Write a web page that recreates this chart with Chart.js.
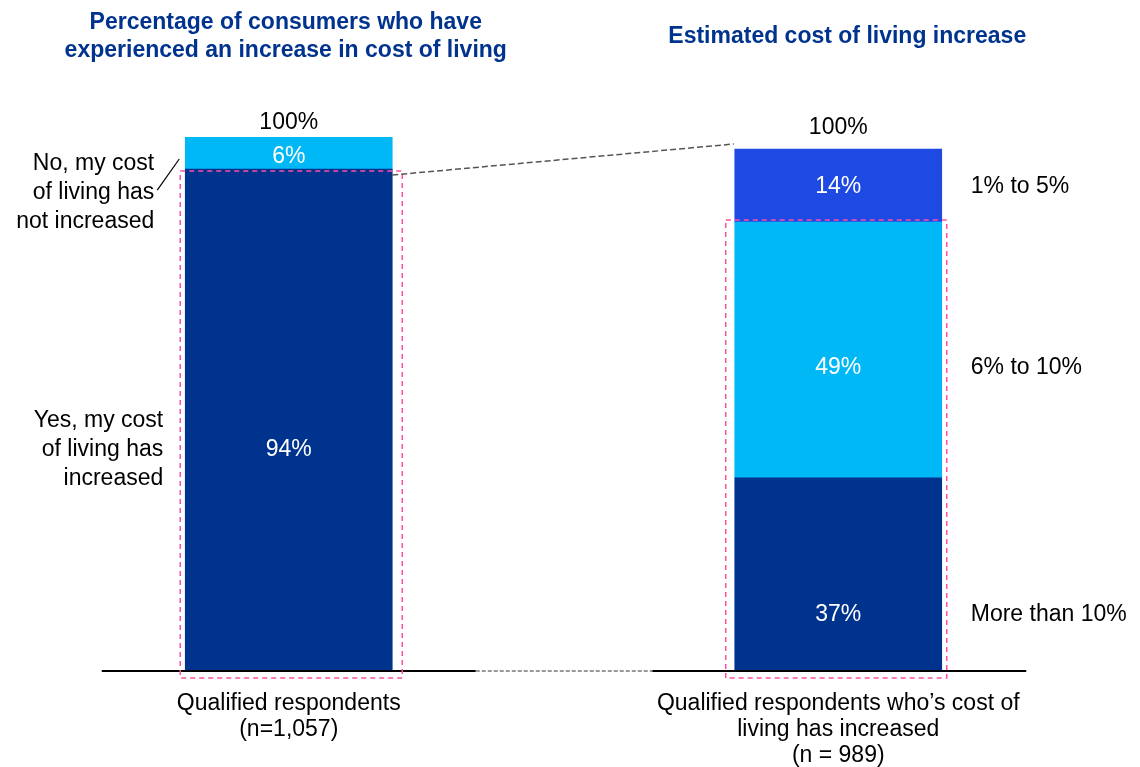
<!DOCTYPE html>
<html>
<head>
<meta charset="utf-8">
<script src="https://cdn.jsdelivr.net/npm/chart.js@4.4.1/dist/chart.umd.min.js"></script>
<style>
  html, body { margin: 0; padding: 0; background: #fff; }
  #wrap { width: 1140px; height: 767px; }
</style>
</head>
<body>
<div id="wrap"><canvas id="costChart" width="1140" height="767"></canvas></div>
<script>
// Base labels under each bar
const barLabels = [
    ['Qualified respondents', '(n=1,057)'],
    ['Qualified respondents who\u2019s cost of', 'living has increased', '(n = 989)']
];

// Left bar: has the cost of living increased? (bottom to top)
const leftSegments = [
    ['Yes, my cost', 'of living has', 'increased'],
    ['No, my cost', 'of living has', 'not increased']
];
const leftValues = [94, 6];

// Right bar: estimated increase (bottom to top)
const rightSegments = ['More than 10%', '6% to 10%', '1% to 5%'];
const rightValues = [37, 49, 14];

const titles = [
    ['Percentage of consumers who have', 'experienced an increase in cost of living'],
    ['Estimated cost of living increase']
];

const NAVY = '#00338D';
const CYAN = '#00B8F5';
const ROYAL = '#1E49E2';
const FONT = 'Arial, "Liberation Sans", sans-serif';
const SIZE = 23;

const leftColors = [NAVY, CYAN];
const rightColors = [NAVY, CYAN, ROYAL];
// where the value text sits inside each segment (0 = top, 1 = bottom)
const leftAnchor = [0.56, 0.62];
const rightAnchor = [0.71, 0.57, 0.52];

const datasets = [];
leftValues.forEach((v, i) => {
    datasets.push({
        label: leftSegments[i].join(' '),
        data: [v, null],
        backgroundColor: leftColors[i],
        yAxisID: 'y',
        side: 0,
        anchor: leftAnchor[i]
    });
});
rightValues.forEach((v, i) => {
    datasets.push({
        label: rightSegments[i],
        data: [null, v],
        backgroundColor: rightColors[i],
        yAxisID: 'y2',
        side: 1,
        anchor: rightAnchor[i]
    });
});

function dashedLine(ctx, x1, y1, x2, y2, color, dash, width) {
    ctx.save();
    ctx.strokeStyle = color;
    ctx.lineWidth = width;
    ctx.setLineDash(dash);
    ctx.beginPath();
    ctx.moveTo(x1, y1);
    ctx.lineTo(x2, y2);
    ctx.stroke();
    ctx.restore();
}

const overlay = {
    id: 'overlay',
    afterDatasetsDraw(chart) {
        const ctx = chart.ctx;
        const baseY = chart.chartArea.bottom;
        const elems = chart.data.datasets.map((ds, d) => chart.getDatasetMeta(d).data[ds.side]);

        const leftTop = elems[1], leftYes = elems[0];
        const rightTop = elems[4], rightMid = elems[3];
        const lx = leftYes.x, rx = rightMid.x;
        const lHalf = leftYes.width / 2, rHalf = rightMid.width / 2;

        // baselines
        dashedLine(ctx, lx - 187, baseY, lx + 187, baseY, '#000', [], 2);
        dashedLine(ctx, rx - 186, baseY, rx + 188, baseY, '#000', [], 2);
        dashedLine(ctx, lx + 187, baseY, rx - 186, baseY, '#777', [4, 2], 1.5);

        // pink highlight boxes around the "increased" share
        ctx.save();
        ctx.strokeStyle = '#FF4FA3';
        ctx.lineWidth = 1.5;
        ctx.setLineDash([5, 4]);
        ctx.strokeRect(lx - lHalf - 5, leftYes.y + 2, lHalf * 2 + 15, baseY + 7 - leftYes.y - 2);
        ctx.strokeRect(rx - rHalf - 9, rightMid.y - 2, rHalf * 2 + 14, baseY + 7 - rightMid.y + 2);
        ctx.restore();

        // connector from the left box to the right bar
        dashedLine(ctx, lx + lHalf, leftYes.y + 6, rx - rHalf - 1, rightTop.y - 5, '#555', [6, 3], 1.5);

        // value labels inside segments
        ctx.save();
        ctx.font = SIZE + 'px ' + FONT;
        ctx.textAlign = 'center';
        ctx.textBaseline = 'middle';
        ctx.fillStyle = '#fff';
        const labelY = elems.map((el, d) => el.y + (el.base - el.y) * chart.data.datasets[d].anchor);
        elems.forEach((el, d) => {
            const ds = chart.data.datasets[d];
            ctx.fillText(ds.data[ds.side] + '%', el.x, labelY[d]);
        });

        // totals above each bar
        ctx.fillStyle = '#000';
        const leftSum = leftValues.reduce((a, b) => a + b, 0);
        const rightSum = rightValues.reduce((a, b) => a + b, 0);
        ctx.fillText(leftSum + '%', lx, leftTop.y - 14);
        ctx.fillText(rightSum + '%', rx, rightTop.y - 21);

        // right bar segment names
        ctx.textAlign = 'left';
        rightSegments.forEach((name, i) => {
            ctx.fillText(name, rx + rHalf + 29, labelY[2 + i]);
        });

        // left bar segment names
        ctx.textAlign = 'right';
        const yesLines = leftSegments[0];
        yesLines.forEach((line, i) => {
            ctx.fillText(line, lx - lHalf - 22, labelY[0] + (i - 1) * 29);
        });
        const noLines = leftSegments[1];
        const noMid = leftYes.y + 24;
        noLines.forEach((line, i) => {
            ctx.fillText(line, lx - lHalf - 31, noMid + (i - 1) * 29);
        });
        ctx.restore();

        // leader line for the "No" label
        dashedLine(ctx, lx - lHalf - 28, noMid - 3, lx - lHalf - 6, leftTop.y + 22, '#000', [], 1.2);

        // panel titles
        ctx.save();
        ctx.font = 'bold ' + SIZE + 'px ' + FONT;
        ctx.fillStyle = NAVY;
        ctx.textAlign = 'center';
        ctx.textBaseline = 'middle';
        titles[0].forEach((line, i) => ctx.fillText(line, lx - 3, 23 + i * 28));
        titles[1].forEach((line) => ctx.fillText(line, rx + 9, 37));
        ctx.restore();
    }
};

new Chart(document.getElementById('costChart'), {
    type: 'bar',
    data: { labels: barLabels, datasets: datasets },
    options: {
        responsive: false,
        animation: false,
        layout: { padding: { top: 137, left: 14, right: 27, bottom: 0 } },
        datasets: { bar: { barThickness: 207 } },
        plugins: {
            legend: { display: false },
            tooltip: { enabled: false }
        },
        scales: {
            x: {
                stacked: true,
                grid: { display: false, drawTicks: false },
                border: { display: false },
                ticks: {
                    color: '#000',
                    padding: 20,
                    font: { family: FONT, size: SIZE, lineHeight: 1.12 }
                },
                afterFit: (scale) => { scale.height = 96; }
            },
            y: { stacked: true, display: false, min: 0, max: 100 },
            y2: { stacked: true, display: false, min: 0, max: 102.3 }
        }
    },
    plugins: [overlay]
});
</script>
</body>
</html>
